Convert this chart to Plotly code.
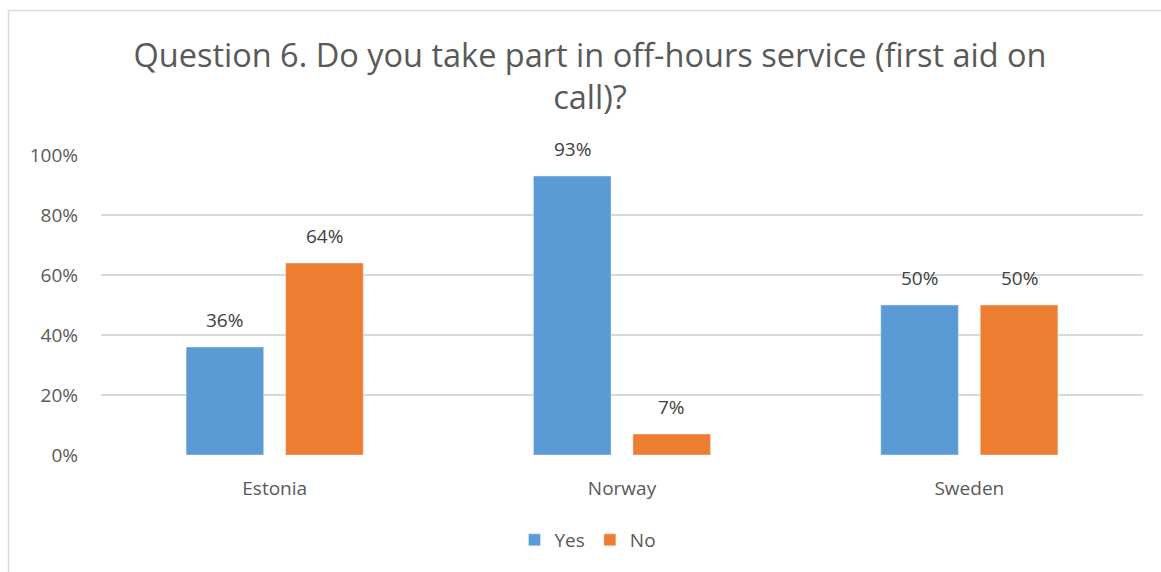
import plotly.graph_objects as go

categories = ["Estonia", "Norway", "Sweden"]
yes_values = [36, 93, 50]
no_values = [64, 7, 50]
yes_labels = ["36%", "93%", "50%"]
no_labels = ["64%", "7%", "50%"]
tick_vals = [0, 20, 40, 60, 80, 100]
tick_text = ["0%", "20%", "40%", "60%", "80%", "100%"]

FONT = "Open Sans"
GREY = "#595959"
FS = 19

fig = go.Figure()
fig.add_trace(go.Bar(name="Yes", x=categories, y=yes_values, marker_color="#5B9BD5"))
fig.add_trace(go.Bar(name="No", x=categories, y=no_values, marker_color="#ED7D31"))

W, H = 1161, 572
L, R, T, B = 101, 18, 155, 117
pw, ph = W - L - R, H - T - B
half = 49.75

annotations = []
for cat, v, t in zip(categories, yes_values, yes_labels):
    annotations.append(dict(x=cat, y=v, text=t, xref="x", yref="y", showarrow=False,
                            xshift=-half, yshift=12, yanchor="bottom",
                            font=dict(size=FS, color="#404040", family=FONT)))
for cat, v, t in zip(categories, no_values, no_labels):
    annotations.append(dict(x=cat, y=v, text=t, xref="x", yref="y", showarrow=False,
                            xshift=half, yshift=12, yanchor="bottom",
                            font=dict(size=FS, color="#404040", family=FONT)))

fig.update_layout(
    width=W, height=H,
    margin=dict(l=L, r=R, t=T, b=B),
    paper_bgcolor="white", plot_bgcolor="white",
    barmode="group", bargap=0.427, bargroupgap=0.22,
    title=dict(text="Question 6. Do you take part in off-hours service (first aid on<br>call)?",
               x=590 / W, xanchor="center", y=1 - 67 / H, yanchor="top",
               font=dict(family=FONT, size=32.5, color=GREY)),
    font=dict(family=FONT, color=GREY, size=FS),
    showlegend=True,
    legend=dict(orientation="h", x=(588 - L) / pw, xanchor="center",
                y=-(540 - (T + ph)) / ph, yanchor="middle",
                font=dict(size=FS, color=GREY), itemwidth=30,
                traceorder="normal"),
    xaxis=dict(showgrid=False, showline=False, ticks="", ticklabelstandoff=20,
               tickfont=dict(size=FS, color=GREY)),
    yaxis=dict(range=[0, 100], tickvals=tick_vals, ticktext=tick_text,
               showgrid=True, gridcolor="#D9D9D9", gridwidth=1.5, zeroline=False,
               showline=False, ticks="", ticklabelstandoff=22,
               tickfont=dict(size=FS, color=GREY)),
    annotations=annotations,
    shapes=[
        dict(type="line", xref="paper", yref="paper",
             x0=(8.5 - L) / pw, x1=(8.5 - L) / pw, y0=1 + (T - 10.5) / ph, y1=-1,
             line=dict(color="#D9D9D9", width=1.5)),
        dict(type="line", xref="paper", yref="paper",
             x0=(8.5 - L) / pw, x1=1.2, y0=1 + (T - 10.5) / ph, y1=1 + (T - 10.5) / ph,
             line=dict(color="#D9D9D9", width=1.5)),
    ],
)

fig.write_html("out.html", config={"displayModeBar": False},
               post_script="document.body.style.margin='0';document.body.style.overflow='hidden';")
